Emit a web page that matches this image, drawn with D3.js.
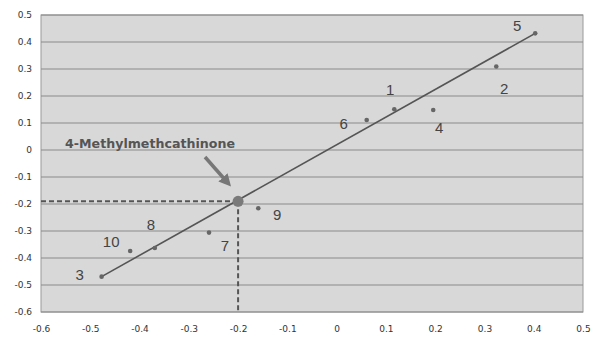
<!DOCTYPE html>
<html>
<head>
<meta charset="utf-8">
<script src="https://cdn.jsdelivr.net/npm/d3@7"></script>
<style>
  body { margin: 0; background: #fff; }
  svg { display: block; }
</style>
</head>
<body>
<svg width="593" height="338"></svg>
<script>
// compound numbers and their predicted / observed values
var labels = ["1", "2", "3", "4", "5", "6", "7", "8", "9", "10"];
var xVals = [0.117, 0.324, -0.477, 0.196, 0.403, 0.061, -0.259, -0.369, -0.159, -0.419];
var yVals = [0.151, 0.309, -0.469, 0.148, 0.432, 0.111, -0.306, -0.363, -0.216, -0.374];

// label offsets (px) from the point
var labelDx = [-4, 8, -22, 6, -18, -23, 16, -4, 19, -19];
var labelDy = [-19, 22, -2, 18, -8, 4, 13, -23, 6, -9];

// trend line ends
var trendX = [-0.477, 0.403];
var trendY = [-0.469, 0.432];

// target compound
var targetName = "4-Methylmethcathinone";
var targetX = -0.2, targetY = -0.19;

var xTicks = [-0.6, -0.5, -0.4, -0.3, -0.2, -0.1, 0, 0.1, 0.2, 0.3, 0.4, 0.5];
var yTicks = [0.5, 0.4, 0.3, 0.2, 0.1, 0, -0.1, -0.2, -0.3, -0.4, -0.5, -0.6];

var svg = d3.select("svg");
var plotLeft = 41, plotRight = 583, plotTop = 15, plotBottom = 312;

var x = d3.scaleLinear().domain([-0.6, 0.5]).range([plotLeft, plotRight]);
var y = d3.scaleLinear().domain([-0.6, 0.5]).range([plotBottom, plotTop]);

var fmt = function(d) { return d === 0 ? "0" : d3.format(".1f")(d).replace("−", "-"); };

// plot background
svg.append("rect")
    .attr("x", plotLeft).attr("y", plotTop)
    .attr("width", plotRight - plotLeft).attr("height", plotBottom - plotTop)
    .attr("fill", "#d8d8d8")
    .attr("stroke", "#9a9a9a")
    .attr("stroke-width", 1);

// horizontal grid
svg.append("g")
    .selectAll("line")
    .data(yTicks)
    .enter()
    .append("line")
    .attr("x1", plotLeft).attr("x2", plotRight)
    .attr("y1", function(d) { return y(d); })
    .attr("y2", function(d) { return y(d); })
    .attr("stroke", "#8a8a8a")
    .attr("stroke-width", 1);

// y axis labels
var yAxis = svg.append("g")
    .attr("transform", "translate(" + plotLeft + ",0)")
    .call(d3.axisLeft(y).tickValues(yTicks).tickFormat(fmt).tickSize(0).tickPadding(9));
yAxis.select(".domain").remove();
yAxis.selectAll("text")
    .attr("font-family", "DejaVu Sans")
    .attr("font-size", "9px")
    .attr("fill", "#333");

// x axis labels
var xAxis = svg.append("g")
    .attr("transform", "translate(0," + plotBottom + ")")
    .call(d3.axisBottom(x).tickValues(xTicks).tickFormat(fmt).tickSize(0).tickPadding(14));
xAxis.select(".domain").remove();
xAxis.selectAll("text")
    .attr("font-family", "DejaVu Sans")
    .attr("font-size", "9px")
    .attr("fill", "#333");

// dashed guides to target
svg.append("line")
    .attr("x1", x(-0.6)).attr("x2", x(targetX))
    .attr("y1", y(targetY)).attr("y2", y(targetY))
    .attr("stroke", "#555").attr("stroke-width", 2)
    .attr("stroke-dasharray", "5,3");
svg.append("line")
    .attr("x1", x(targetX)).attr("x2", x(targetX))
    .attr("y1", y(targetY)).attr("y2", y(-0.6))
    .attr("stroke", "#555").attr("stroke-width", 2)
    .attr("stroke-dasharray", "5,3");

// trend line
svg.append("line")
    .attr("x1", x(trendX[0])).attr("y1", y(trendY[0]))
    .attr("x2", x(trendX[1])).attr("y2", y(trendY[1]))
    .attr("stroke", "#555")
    .attr("stroke-width", 1.6);

// points
svg.append("g")
    .selectAll("circle")
    .data(labels)
    .enter()
    .append("circle")
    .attr("cx", function(d, i) { return x(xVals[i]); })
    .attr("cy", function(d, i) { return y(yVals[i]); })
    .attr("r", 2.3)
    .attr("fill", "#666");

// point labels
svg.append("g")
    .selectAll("text")
    .data(labels)
    .enter()
    .append("text")
    .attr("x", function(d, i) { return x(xVals[i]) + labelDx[i]; })
    .attr("y", function(d, i) { return y(yVals[i]) + labelDy[i]; })
    .attr("dy", "0.35em")
    .attr("text-anchor", "middle")
    .attr("font-family", "Liberation Sans")
    .attr("font-size", "15px")
    .attr("fill", "#444")
    .text(function(d) { return d; });

// target point
svg.append("circle")
    .attr("cx", x(targetX)).attr("cy", y(targetY))
    .attr("r", 5.5)
    .attr("fill", "#7a7a7a");

// annotation arrow
svg.append("defs").append("marker")
    .attr("id", "arrow")
    .attr("viewBox", "0 0 10 10")
    .attr("refX", 5).attr("refY", 5)
    .attr("markerWidth", 3.5).attr("markerHeight", 3.5)
    .attr("orient", "auto")
    .append("path")
    .attr("d", "M0,0 L10,5 L0,10 z")
    .attr("fill", "#777");
svg.append("line")
    .attr("x1", 205).attr("y1", 157)
    .attr("x2", 227).attr("y2", 182)
    .attr("stroke", "#777")
    .attr("stroke-width", 3.5)
    .attr("marker-end", "url(#arrow)");

svg.append("text")
    .attr("x", 65).attr("y", 148)
    .attr("font-family", "DejaVu Sans")
    .attr("font-weight", "bold")
    .attr("font-size", "12.5px")
    .attr("textLength", 170)
    .attr("lengthAdjust", "spacingAndGlyphs")
    .attr("fill", "#555")
    .text(targetName);
</script>
</body>
</html>
